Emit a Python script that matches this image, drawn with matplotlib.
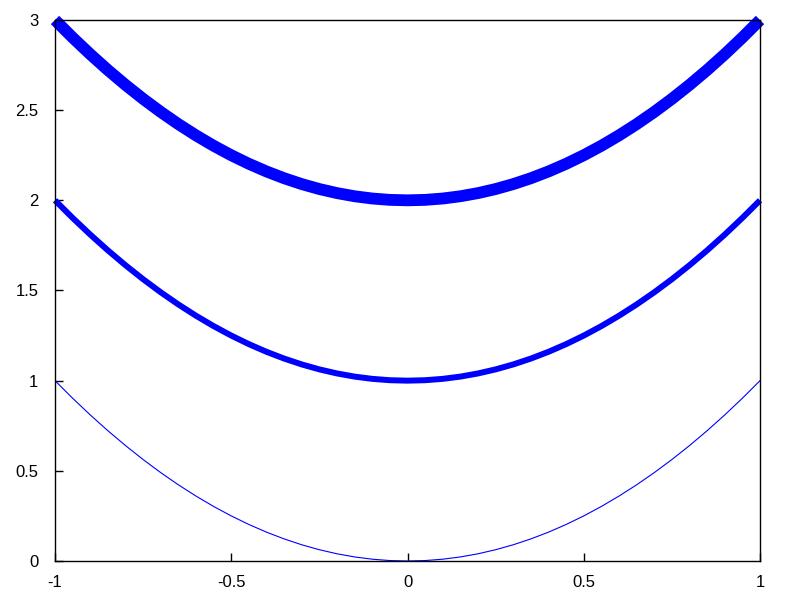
import matplotlib.pyplot as plt

# values, step 0.05 in x
x = [-1.0, -0.95, -0.9, -0.85, -0.8, -0.75, -0.7, -0.65, -0.6, -0.55, -0.5,
     -0.45, -0.4, -0.35, -0.3, -0.25, -0.2, -0.15, -0.1, -0.05, 0.0,
     0.05, 0.1, 0.15, 0.2, 0.25, 0.3, 0.35, 0.4, 0.45, 0.5,
     0.55, 0.6, 0.65, 0.7, 0.75, 0.8, 0.85, 0.9, 0.95, 1.0]
y_low = [1.0, 0.9025, 0.81, 0.7225, 0.64, 0.5625, 0.49, 0.4225, 0.36, 0.3025, 0.25,
         0.2025, 0.16, 0.1225, 0.09, 0.0625, 0.04, 0.0225, 0.01, 0.0025, 0.0,
         0.0025, 0.01, 0.0225, 0.04, 0.0625, 0.09, 0.1225, 0.16, 0.2025, 0.25,
         0.3025, 0.36, 0.4225, 0.49, 0.5625, 0.64, 0.7225, 0.81, 0.9025, 1.0]
y_mid = [2.0, 1.9025, 1.81, 1.7225, 1.64, 1.5625, 1.49, 1.4225, 1.36, 1.3025, 1.25,
         1.2025, 1.16, 1.1225, 1.09, 1.0625, 1.04, 1.0225, 1.01, 1.0025, 1.0,
         1.0025, 1.01, 1.0225, 1.04, 1.0625, 1.09, 1.1225, 1.16, 1.2025, 1.25,
         1.3025, 1.36, 1.4225, 1.49, 1.5625, 1.64, 1.7225, 1.81, 1.9025, 2.0]
y_top = [3.0, 2.9025, 2.81, 2.7225, 2.64, 2.5625, 2.49, 2.4225, 2.36, 2.3025, 2.25,
         2.2025, 2.16, 2.1225, 2.09, 2.0625, 2.04, 2.0225, 2.01, 2.0025, 2.0,
         2.0025, 2.01, 2.0225, 2.04, 2.0625, 2.09, 2.1225, 2.16, 2.2025, 2.25,
         2.3025, 2.36, 2.4225, 2.49, 2.5625, 2.64, 2.7225, 2.81, 2.9025, 3.0]

xticks = [-1, -0.5, 0, 0.5, 1]
xlabels = ["-1", "-0.5", "0", "0.5", "1"]
yticks = [0, 0.5, 1, 1.5, 2, 2.5, 3]
ylabels = ["0", "0.5", "1", "1.5", "2", "2.5", "3"]

plt.rcParams['font.family'] = ['Liberation Sans', 'DejaVu Sans']

fig = plt.figure(figsize=(8, 6), dpi=100)
ax = fig.add_axes([0.06875, 0.065, 0.88125, 0.9017])

ax.plot(x, y_low, color="#0000ff", lw=0.8)
ax.plot(x, y_mid, color="#0000ff", lw=4.3, solid_capstyle="butt", clip_on=False)
ax.plot(x, y_top, color="#0000ff", lw=8.5, solid_capstyle="butt", clip_on=False)

ax.set_xlim(-1, 1)
ax.set_ylim(0, 3)
ax.set_xticks(xticks)
ax.set_xticklabels(xlabels)
ax.set_yticks(yticks)
ax.set_yticklabels(ylabels)
ax.tick_params(direction="in", length=6, width=1, labelsize=12, colors="black")
ax.tick_params(axis="x", pad=10)
ax.tick_params(axis="y", pad=12)
for s in ax.spines.values():
    s.set_linewidth(1)
    s.set_zorder(5)

fig.savefig("out.png", dpi=100)
